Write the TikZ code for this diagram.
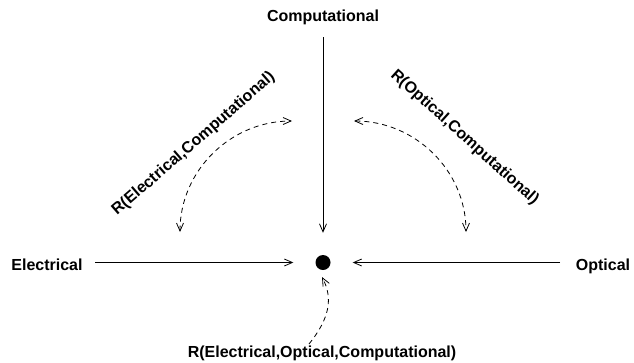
\documentclass[tikz,border=0pt]{standalone}
\usepackage{fontspec}
\setmainfont{Liberation Sans}
\usetikzlibrary{arrows.meta}
\begin{document}
\begin{tikzpicture}[x=1pt,y=-1pt,
  lbl/.style={inner sep=0pt,font=\fontsize{16}{19}\selectfont\bfseries},
  con/.style={line width=0.8pt,-{Straight Barb[length=8pt,width=7pt,line width=0.8pt]}},
  dcon/.style={line width=0.8pt,dash pattern=on 5pt off 4pt,{Straight Barb[length=8pt,width=7pt,line width=0.8pt]}-{Straight Barb[length=8pt,width=7pt,line width=0.8pt]}},
  dcon1/.style={line width=0.8pt,dash pattern=on 5pt off 4pt,-{Straight Barb[length=8pt,width=7pt,line width=0.8pt]}}]
\useasboundingbox (0,0) rectangle (634,362);
\node[lbl,anchor=base] (comp) at (323,21.5) {Computational};
\node[lbl,anchor=base] (elec) at (47,270) {Electrical};
\node[lbl,anchor=base] (opt) at (603,270) {Optical};
\node[lbl,anchor=base] (all) at (322,357) {R(Electrical,Optical,Computational)};
\node[lbl,anchor=base west,rotate=41] (rec) at (117,216) {R(Electrical,Computational)};
\node[lbl,anchor=base west,rotate=-42] (roc) at (390,76) {R(Optical,Computational)};
\node[circle,fill=black,minimum size=15pt,inner sep=0pt] (dot) at (323,262.5) {};
\coordinate (ct) at (323,37);
\coordinate (el) at (95,262.5);
\coordinate (or) at (560,262.5);
\draw[con,shorten >=22pt] (ct) -- (dot);
\draw[con,shorten >=22pt] (el) -- (dot);
\draw[con,shorten >=22pt] (or) -- (dot);
\coordinate (la) at (180,232);
\coordinate (lb) at (292,121);
\draw[dcon] (la) .. controls (180,170.7) and (230.7,121) .. (lb);
\coordinate (ra) at (354,121);
\coordinate (rb) at (466,232);
\draw[dcon] (ra) .. controls (415.3,121) and (466,170.7) .. (rb);
\coordinate (bs) at (309,344);
\coordinate (bt) at (322,277);
\draw[dcon1] (bs) .. controls (330,318) and (333,298) .. (bt);
\end{tikzpicture}
\end{document}
